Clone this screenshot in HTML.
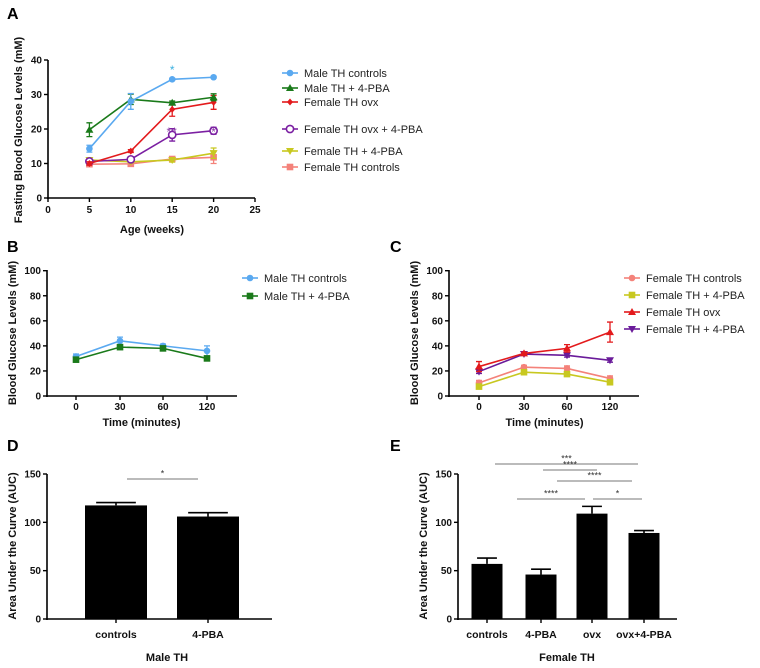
<!DOCTYPE html>
<html><head><meta charset="utf-8"><style>
body{margin:0;background:#fff;width:760px;height:663px;overflow:hidden}
svg{font-family:"Liberation Sans",Arial,sans-serif}
.tk{font-size:10px;font-weight:bold;fill:#111}
.ttl{font-size:11px;font-weight:bold;fill:#111}
.lg{font-size:11px;fill:#222}
.pl{font-size:16px;font-weight:bold;fill:#000}
</style></head><body>
<svg id="fig" width="760" height="663" viewBox="0 0 760 663" xmlns="http://www.w3.org/2000/svg"></svg>
<script>
// Panel A data
const aWeeks=[5,10,15,20];
const aMaleCtl=[14.3,28,34.4,35], aMaleCtlErr=[1,2.3,0.3,0.3];
const aMalePBA=[19.8,28.6,27.6,29.2], aMalePBAErr=[2,1.5,0.5,1];
const aFemOvx=[10,13.6,25.7,27.7], aFemOvxErr=[0.5,0.4,2,2];
const aFemOvxPBA=[10.6,11.2,18.3,19.5], aFemOvxPBAErr=[0.5,0.6,1.8,1];
const aFemPBA=[11,10.5,11,13], aFemPBAErr=[0.6,0.4,0.6,1.5];
const aFemCtl=[9.8,9.9,11.3,11.8], aFemCtlErr=[0.5,0.5,0.6,1.8];
const aXTicks=[0,5,10,15,20,25], aYTicks=[0,10,20,30,40];
// Panel B data
const timeCats=["0","30","60","120"];
const bMaleCtl=[31.5,44,40,36], bMaleCtlErr=[2,3,1.5,4];
const bMalePBA=[29,39,38,30], bMalePBAErr=[1,1.5,1,1.5];
const glucTicks=[0,20,40,60,80,100];
// Panel C data
const cFemCtl=[10.5,23,22,14], cFemCtlErr=[2,1.5,2,2];
const cFemPBA=[7.5,19,17.5,11], cFemPBAErr=[1,1.5,1.5,1];
const cFemOvx=[23.5,34,38,51], cFemOvxErr=[4,1,3,8];
const cFemOvxPBA=[19.5,33.5,32.5,28.5], cFemOvxPBAErr=[1.5,1,1.5,1.5];
// Panel D data
const dCats=["controls","4-PBA"];
const dVals=[117.5,106], dErr=[3,4];
const aucTicks=[0,50,100,150];
// Panel E data
const eCats=["controls","4-PBA","ovx","ovx+4-PBA"];
const eVals=[57,46,109,89], eErr=[6,5.5,7.5,2.5];

const svg=document.getElementById('fig');
const NS="http://www.w3.org/2000/svg";
function mk(tag,attrs,parent,name,text){
  const e=document.createElementNS(NS,tag);
  for(const k in attrs)e.setAttribute(k,attrs[k]);
  
  
  if(text!==undefined)e.textContent=text;
  (parent||svg).appendChild(e);return e;
}
function marker(g,shape,x,y,col,name){
  const r=3.3;
  if(shape==='circle')mk('circle',{cx:x,cy:y,r:r,fill:col},g,name);
  else if(shape==='ocircle')mk('circle',{cx:x,cy:y,r:3.6,fill:'#fff',stroke:col,'stroke-width':1.6},g,name);
  else if(shape==='square')mk('rect',{x:x-r,y:y-r,width:2*r,height:2*r,fill:col},g,name);
  else if(shape==='tri')mk('polygon',{points:`${x},${y-4} ${x-4},${y+3} ${x+4},${y+3}`,fill:col},g,name);
  else if(shape==='dtri')mk('polygon',{points:`${x},${y+4} ${x-4},${y-3} ${x+4},${y-3}`,fill:col},g,name);
  else if(shape==='diamond')mk('polygon',{points:`${x},${y-3.5} ${x-3},${y} ${x},${y+3.5} ${x+3},${y}`,fill:col},g,name);
}
function yAxis(g,x,y0pix,y1pix,ticks,ys,name){
  mk('line',{x1:x,y1:y0pix+1,x2:x,y2:y1pix,stroke:'#000','stroke-width':1.6},g,name+'-line');
  ticks.forEach(t=>{
    const y=ys(t);
    mk('line',{x1:x-4,y1:y,x2:x,y2:y,stroke:'#000','stroke-width':1.4},g,name+'-tick');
    mk('text',{x:x-6,y:y+3.5,'text-anchor':'end',class:'tk'},g,name+'-tick-label',t);
  });
}
function series(g,xs,vals,errs,ys,col,shape,name){
  let d='';
  vals.forEach((v,i)=>{d+=(i?'L':'M')+xs[i]+','+ys(v);});
  mk('path',{d:d,fill:'none',stroke:col,'stroke-width':1.6},g,name+'-line');
  vals.forEach((v,i)=>{
    const x=xs[i],yt=ys(v+errs[i]),yb=ys(v-errs[i]);
    mk('path',{d:`M${x},${yt}V${yb}M${x-3},${yt}H${x+3}M${x-3},${yb}H${x+3}`,stroke:col,'stroke-width':1.3,fill:'none'},g,name+'-error');
    marker(g,shape,x,ys(v),col,name+'-point');
  });
}
function legend(g,x,y,col,shape,label,name){
  mk('line',{x1:x-8,y1:y,x2:x+8,y2:y,stroke:col,'stroke-width':1.6},g,name+'-line');
  marker(g,shape,x,y,col,name+'-marker');
  mk('text',{x:x+14,y:y+4,class:'lg'},g,name+'-label',label);
}
function ytitle(g,x,cy,txt,name){
  mk('text',{x:0,y:0,transform:`translate(${x},${cy}) rotate(-90)`,'text-anchor':'middle',class:'ttl'},g,name,txt);
}

// ===== Panel A =====
(function(){
  const g=mk('g',{},svg,'panel-a');
  mk('text',{x:7,y:19,class:'pl'},g,'panel-a-letter','A');
  const ys=v=>198-v*3.45, xs=v=>48+v*8.28;
  yAxis(g,48,198,60,aYTicks,ys,'a-y-axis');
  mk('line',{x1:47,y1:198,x2:255,y2:198,stroke:'#000','stroke-width':1.6},g,'a-x-axis-line');
  aXTicks.forEach(t=>{const x=xs(t);
    mk('line',{x1:x,y1:198,x2:x,y2:202,stroke:'#000','stroke-width':1.4},g,'a-x-tick');
    mk('text',{x:x,y:213,'text-anchor':'middle',class:'tk'},g,'a-x-tick-label',t);});
  ytitle(g,22,130,'Fasting Blood Glucose Levels (mM)','a-y-axis-title');
  mk('text',{x:152,y:233,'text-anchor':'middle',class:'ttl'},g,'a-x-axis-title','Age (weeks)');
  const X=aWeeks.map(xs);
  series(g,X,aFemCtl,aFemCtlErr,ys,'#f4827a','square','a-female-controls');
  series(g,X,aFemPBA,aFemPBAErr,ys,'#c8c820','dtri','a-female-4pba');
  series(g,X,aFemOvxPBA,aFemOvxPBAErr,ys,'#7b1fa2','ocircle','a-female-ovx-4pba');
  series(g,X,aFemOvx,aFemOvxErr,ys,'#e31a1c','diamond','a-female-ovx');
  series(g,X,aMalePBA,aMalePBAErr,ys,'#1a7a1a','tri','a-male-4pba');
  series(g,X,aMaleCtl,aMaleCtlErr,ys,'#5aa9f0','circle','a-male-controls');
  mk('text',{x:xs(15),y:74,'text-anchor':'middle',style:'font-size:12px;fill:#3ab0e0'},g,'a-sig-male','*');
  mk('text',{x:xs(15),y:136,'text-anchor':'middle',style:'font-size:12px;fill:#8a3aa8;letter-spacing:1px'},g,'a-sig-ovx-15','**');
  mk('text',{x:xs(20),y:136,'text-anchor':'middle',style:'font-size:12px;fill:#8a3aa8'},g,'a-sig-ovx-20','*');
  legend(g,290,73,'#5aa9f0','circle','Male TH controls','legend-a-male-controls');
  legend(g,290,88,'#1a7a1a','tri','Male TH + 4-PBA','legend-a-male-4pba');
  legend(g,290,102,'#e31a1c','diamond','Female TH ovx','legend-a-female-ovx');
  legend(g,290,129,'#7b1fa2','ocircle','Female TH ovx + 4-PBA','legend-a-female-ovx-4pba');
  legend(g,290,151,'#c8c820','dtri','Female TH + 4-PBA','legend-a-female-4pba');
  legend(g,290,167,'#f4827a','square','Female TH controls','legend-a-female-controls');
})();

function glucPanel(letter,lx,ax,xend,cx,name){
  const g=mk('g',{},svg,name);
  mk('text',{x:lx,y:252,class:'pl'},g,name+'-letter',letter);
  const ys=v=>396-v*1.253;
  yAxis(g,ax,396,270,glucTicks,ys,name+'-y-axis');
  mk('line',{x1:ax-1,y1:396,x2:xend,y2:396,stroke:'#000','stroke-width':1.6},g,name+'-x-axis-line');
  timeCats.forEach((t,i)=>{
    mk('line',{x1:cx[i],y1:396,x2:cx[i],y2:400,stroke:'#000','stroke-width':1.4},g,name+'-x-tick');
    mk('text',{x:cx[i],y:410,'text-anchor':'middle',class:'tk'},g,name+'-x-tick-label',t);});
  ytitle(g,ax-31,333,'Blood  Glucose Levels (mM)',name+'-y-axis-title');
  mk('text',{x:(cx[0]+cx[3])/2,y:426,'text-anchor':'middle',class:'ttl'},g,name+'-x-axis-title','Time  (minutes)');
  return {g,ys};
}
// ===== Panel B =====
(function(){
  const cx=[76,120,163,207];
  const {g,ys}=glucPanel('B',7,47,237,cx,'panel-b');
  series(g,cx,bMaleCtl,bMaleCtlErr,ys,'#5aa9f0','circle','b-male-controls');
  series(g,cx,bMalePBA,bMalePBAErr,ys,'#1a7a1a','square','b-male-4pba');
  legend(g,250,278,'#5aa9f0','circle','Male TH controls','legend-b-male-controls');
  legend(g,250,296,'#1a7a1a','square','Male TH + 4-PBA','legend-b-male-4pba');
})();
// ===== Panel C =====
(function(){
  const cx=[479,524,567,610];
  const {g,ys}=glucPanel('C',390,449,639,cx,'panel-c');
  series(g,cx,cFemCtl,cFemCtlErr,ys,'#f4827a','circle','c-female-controls');
  series(g,cx,cFemPBA,cFemPBAErr,ys,'#c8c820','square','c-female-4pba');
  series(g,cx,cFemOvxPBA,cFemOvxPBAErr,ys,'#6a1b9a','dtri','c-female-ovx-4pba');
  series(g,cx,cFemOvx,cFemOvxErr,ys,'#e31a1c','tri','c-female-ovx');
  legend(g,632,278,'#f4827a','circle','Female TH controls','legend-c-female-controls');
  legend(g,632,295,'#c8c820','square','Female TH + 4-PBA','legend-c-female-4pba');
  legend(g,632,312,'#e31a1c','tri','Female TH ovx','legend-c-female-ovx');
  legend(g,632,329,'#6a1b9a','dtri','Female TH + 4-PBA','legend-c-female-ovx-4pba');
})();

function barPanel(letter,lx,ax,xend,cats,vals,errs,cx,bw,xtitle,titleX,name){
  const g=mk('g',{},svg,name);
  mk('text',{x:lx,y:451,class:'pl'},g,name+'-letter',letter);
  const ys=v=>619-v*0.9667;
  yAxis(g,ax,619,474,aucTicks,ys,name+'-y-axis');
  vals.forEach((v,i)=>{
    const x=cx[i],yt=ys(v+errs[i]);
    mk('path',{d:`M${x},${ys(v)}V${yt}M${x-bw*0.32},${yt}H${x+bw*0.32}`,stroke:'#000','stroke-width':1.6,fill:'none'},g,name+'-error');
    mk('rect',{x:x-bw/2,y:ys(v),width:bw,height:619-ys(v),fill:'#000'},g,name+'-bar');
    mk('line',{x1:x,y1:619,x2:x,y2:623,stroke:'#000','stroke-width':1.4},g,name+'-x-tick');
    mk('text',{x:x,y:638,'text-anchor':'middle',class:'tk',style:'font-size:10.5px'},g,name+'-x-tick-label',cats[i]);
  });
  mk('line',{x1:ax-1,y1:619,x2:xend,y2:619,stroke:'#000','stroke-width':1.6},g,name+'-x-axis-line');
  ytitle(g,ax-31,546,'Area  Under the  Curve (AUC)',name+'-y-axis-title');
  mk('text',{x:titleX,y:661,'text-anchor':'middle',class:'ttl'},g,name+'-x-axis-title',xtitle);
  return g;
}
function sig(g,x1,x2,y,txt,name){
  mk('line',{x1:x1,y1:y,x2:x2,y2:y,stroke:'#777','stroke-width':0.9},g,name+'-line');
  mk('text',{x:(x1+x2)/2,y:y-2.5,'text-anchor':'middle',style:'font-size:9px;fill:#333'},g,name+'-label',txt);
}
// ===== Panel D =====
(function(){
  const g=barPanel('D',7,47,272,dCats,dVals,dErr,[116,208],62,'Male TH',167,'panel-d');
  sig(g,127,198,479,'*','d-sig');
})();
// ===== Panel E =====
(function(){
  const g=barPanel('E',390,458,677,eCats,eVals,eErr,[487,541,592,644],31,'Female TH',567,'panel-e');
  sig(g,495,638,464,'***','e-sig-ctl-ovxpba');
  sig(g,543,597,470,'****','e-sig-pba-ovx-top');
  sig(g,557,632,481,'****','e-sig-pba-ovxpba');
  sig(g,517,585,499,'****','e-sig-pba-ovx');
  sig(g,593,642,499,'*','e-sig-ovx-ovxpba');
})();
</script>
</body></html>
